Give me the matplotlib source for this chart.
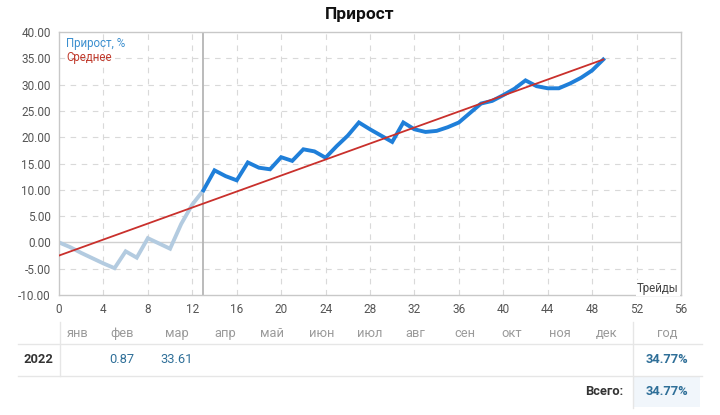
import matplotlib
matplotlib.use("Agg")
import matplotlib.pyplot as plt
from matplotlib.lines import Line2D
from matplotlib.patches import Rectangle

plt.rcParams['font.family'] = ['Roboto', 'DejaVu Sans']

# ---------------- data ----------------
trades_early = [0, 1, 2, 3, 4, 5, 6, 7, 8, 9, 10, 11, 12, 13]
growth_early = [0.0, -0.9, -2.0, -3.0, -4.0, -4.9, -1.7, -2.9, 0.8, -0.2, -1.2, 3.5, 7.2, 9.9]

trades_late = list(range(13, 50))
growth_late = [9.9, 13.7, 12.6, 11.8, 15.2, 14.2, 13.9, 16.2, 15.5, 17.7,
               17.3, 16.1, 18.3, 20.3, 22.8, 21.5, 20.3, 19.1, 22.8, 21.5,
               21.0, 21.2, 21.9, 22.8, 24.6, 26.4, 26.9, 28.0, 29.2, 30.8,
               29.7, 29.3, 29.3, 30.2, 31.3, 32.7, 34.77]

avg_x = [0, 49]
avg_y = [-2.5, 34.77]

split_trade = 13

x_ticks = list(range(0, 57, 4))
y_ticks = [-10, -5, 0, 5, 10, 15, 20, 25, 30, 35, 40]

months = ["янв", "фев", "мар", "апр", "май", "июн", "июл", "авг", "сен", "окт", "ноя", "дек"]
year_label = "2022"
month_values = ["", "0.87", "33.61", "", "", "", "", "", "", "", "", ""]
year_total = "34.77%"
grand_total = "34.77%"

# ---------------- figure ----------------
W, H = 720, 415
fig = plt.figure(figsize=(W / 100, H / 100), dpi=100)
fig.patch.set_facecolor("white")

def fx(px):
    return px / W

def fy(py):
    return 1 - py / H

ax = fig.add_axes([fx(59), fy(295), fx(681) - fx(59), fy(32) - fy(295)])
ax.set_xlim(0, 56)
ax.set_ylim(-10, 40)
ax.set_xticks(x_ticks)
ax.set_yticks(y_ticks)
ax.set_yticklabels([f"{v:.2f}" for v in y_ticks])
ax.tick_params(axis="both", length=0, labelsize=8.5, colors="#555555", pad=6)
for s in ax.spines.values():
    s.set_color("#c8c8c8")
    s.set_linewidth(1.0)

for xv in x_ticks[1:-1]:
    ax.axvline(xv, color="#d9d9d9", lw=0.8, ls=(0, (5, 5)), zorder=0)
for yv in y_ticks[1:-1]:
    if yv == 0:
        ax.axhline(yv, color="#d0d0d0", lw=1.0, zorder=0)
    else:
        ax.axhline(yv, color="#d9d9d9", lw=0.8, ls=(0, (5, 5)), zorder=0)

ax.axvline(split_trade, color="#b5b5b5", lw=1.3, zorder=1)

ax.plot(trades_early, growth_early, color="#b3cbe0", lw=2.8, solid_joinstyle="miter", zorder=2)
ax.plot(trades_late, growth_late, color="#1f7fd9", lw=2.8, solid_joinstyle="miter", zorder=3)
ax.plot(avg_x, avg_y, color="#c9302c", lw=1.3, zorder=4)

ax.text(0.012, 0.958, "Прирост, %", transform=ax.transAxes, color="#3b8fcf",
        fontsize=8.3, va="center", ha="left")
ax.text(0.012, 0.902, "Среднее", transform=ax.transAxes, color="#c0392b",
        fontsize=8.3, va="center", ha="left")
ax.text(0.996, 0.026, "Трейды", transform=ax.transAxes, color="#444444",
        fontsize=8.3, va="center", ha="right",
        bbox=dict(facecolor="white", edgecolor="none", pad=1))

fig.text(0.5, fy(15), "Прирост", ha="center", va="center", fontsize=12.5,
         fontweight="bold", color="#111111")

# ---------------- table ----------------
col_x = [78, 122, 177, 225, 272, 322, 370, 415, 465, 512, 560, 607]
header_y = 333
row_y = 359
total_y = 391

fig.add_artist(Rectangle((fx(633), fy(407)), fx(700) - fx(633), fy(376) - fy(407),
                         transform=fig.transFigure, facecolor="#f1f6fb", edgecolor="none", zorder=0))
fig.add_artist(Line2D([fx(18), fx(702)], [fy(344), fy(344)], transform=fig.transFigure,
                      color="#e6e6e6", lw=1.0))
fig.add_artist(Line2D([fx(18), fx(702)], [fy(376), fy(376)], transform=fig.transFigure,
                      color="#e6e6e6", lw=1.0))
fig.add_artist(Line2D([fx(60), fx(60)], [fy(322), fy(376)], transform=fig.transFigure,
                      color="#e6e6e6", lw=1.0))
fig.add_artist(Line2D([fx(633), fx(633)], [fy(322), fy(408)], transform=fig.transFigure,
                      color="#e6e6e6", lw=1.0))

for m, cx, val in zip(months, col_x, month_values):
    fig.text(fx(cx), fy(header_y), m, ha="center", va="center", fontsize=9.3, color="#9a9a9a")
    if val:
        fig.text(fx(cx), fy(row_y), val, ha="center", va="center", fontsize=9.3, color="#2f6f98")
fig.text(fx(667), fy(header_y), "год", ha="center", va="center", fontsize=9.3, color="#9a9a9a")
fig.text(fx(38), fy(row_y), year_label, ha="center", va="center", fontsize=9.3,
         fontweight="bold", color="#333333")
fig.text(fx(667), fy(row_y), year_total, ha="center", va="center", fontsize=9.3,
         fontweight="bold", color="#2f6f98")
fig.text(fx(623), fy(total_y), "Всего:", ha="right", va="center", fontsize=9.3,
         fontweight="bold", color="#333333")
fig.text(fx(667), fy(total_y), grand_total, ha="center", va="center", fontsize=9.3,
         fontweight="bold", color="#2f6f98")

fig.savefig("out.png", dpi=100, facecolor="white")
